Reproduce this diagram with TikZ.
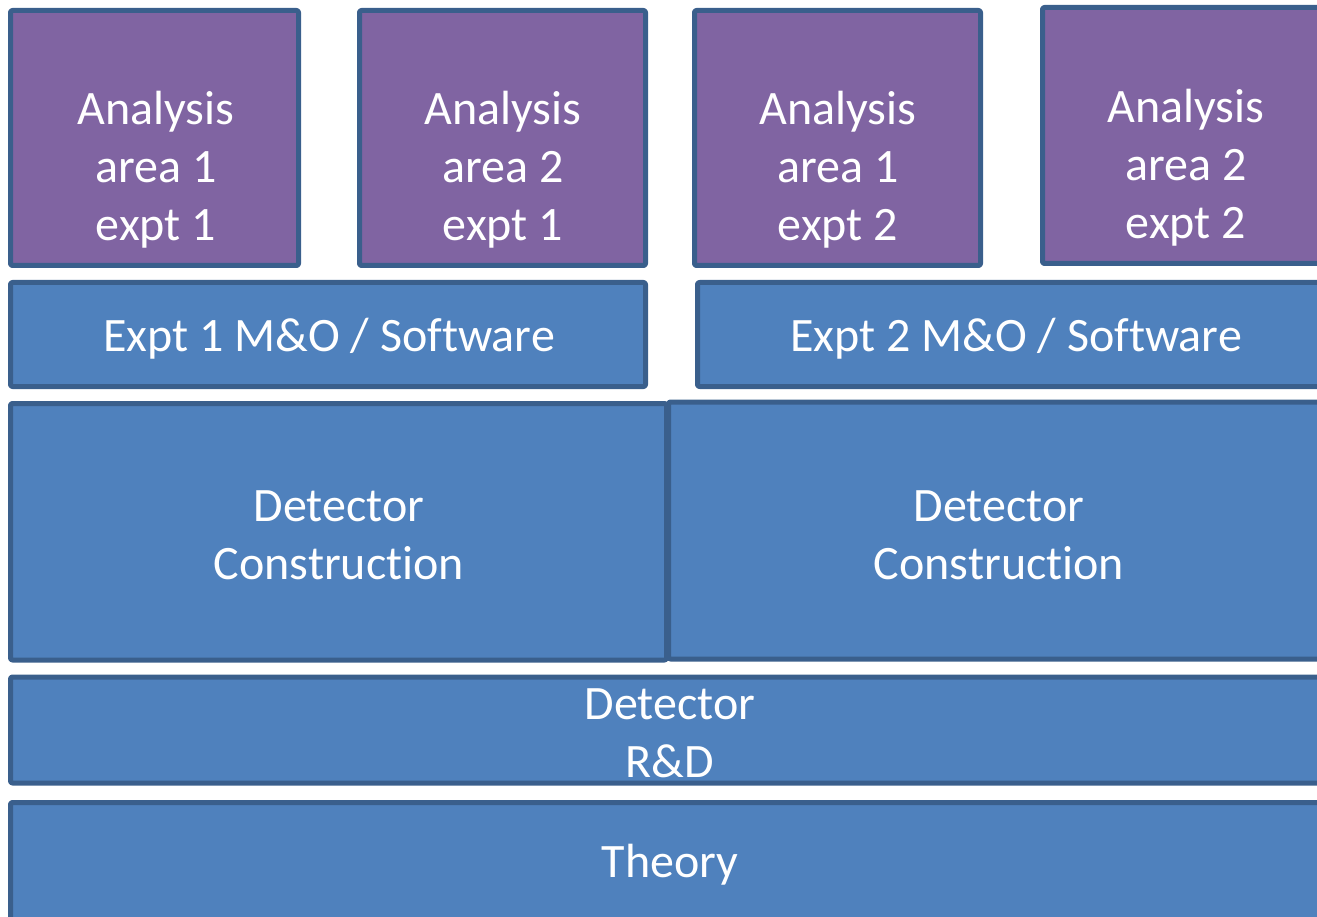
\documentclass[tikz,border=0pt]{standalone}
\usepackage{fontspec}
\setmainfont{Carlito}[Ligatures=NoCommon]
\definecolor{anapurple}{HTML}{8064A2}
\definecolor{layerblue}{HTML}{4F81BD}
\definecolor{edgeblue}{HTML}{3A5F8C}
\tikzset{
  box/.style={draw=edgeblue, line width=5pt, rounded corners=2pt, line join=round},
  anabox/.style={box, fill=anapurple},
  laybox/.style={box, fill=layerblue},
  lbl/.style={text=white, align=center, inner sep=0pt,
    font=\fontsize{48pt}{58pt}\selectfont},
}
\begin{document}
\begin{tikzpicture}[x=1pt, y=-1pt]
					%%%%%%%%%%%%%%%%%%%%%%%%%%%%%%%%%
					\useasboundingbox (0,0) rectangle (1317,917);
					\clip (0,0) rectangle (1317,917);
					%%%%%%%%%%%%%%%%%%%%%%%%%%%%%%%%%
					\draw[anabox] (10.5,10.5) rectangle (298.5,265.5);
					\draw[anabox] (359.5,10.5) rectangle (645.5,265.5);
					\draw[anabox] (694.5,10.5) rectangle (980.5,265.5);
					\draw[anabox] (1042.5,7.5) rectangle (1340,263.5);
					%%%%%%%%%%%%%%%%%%%%%%%%%%%%%%%%%
					\draw[laybox] (10.5,282.5) rectangle (645.5,386.5);
					\draw[laybox] (697.5,282.5) rectangle (1340,386.5);
					\draw[laybox] (10.5,403.5) rectangle (666.5,660);
					\draw[laybox] (668.5,402) rectangle (1340,659);
					\draw[laybox] (10.5,677) rectangle (1340,783);
					\draw[laybox] (10.5,802.5) rectangle (1340,940);
					%%%%%%%%%%%%%%%%%%%%%%%%%%%%%%%%%
					\node[lbl] (a11) at (156,170) {Analysis\\area 1\\expt 1};
					\node[lbl] (a21) at (503,170) {Analysis\\area 2\\expt 1};
					\node[lbl] (a12) at (838,170) {Analysis\\area 1\\expt 2};
					\node[lbl] (a22) at (1186,168) {Analysis\\area 2\\expt 2};
					\node[lbl] (mo1) at (329,339) {Expt 1 M\&O / Software};
					\node[lbl] (mo2) at (1016,339) {Expt 2 M\&O / Software};
					\node[lbl] (dc1) at (339,535) {Detector\\Construction};
					\node[lbl] (dc2) at (999,535) {Detector\\Construction};
					\node[lbl] (rd) at (670,733) {Detector\\R\&D};
					\node[lbl] (th) at (670,865) {Theory};
					%%%%%%%%%%%%%%%%%%%%%%%%%%%%%%%%%
\end{tikzpicture}
\end{document}
